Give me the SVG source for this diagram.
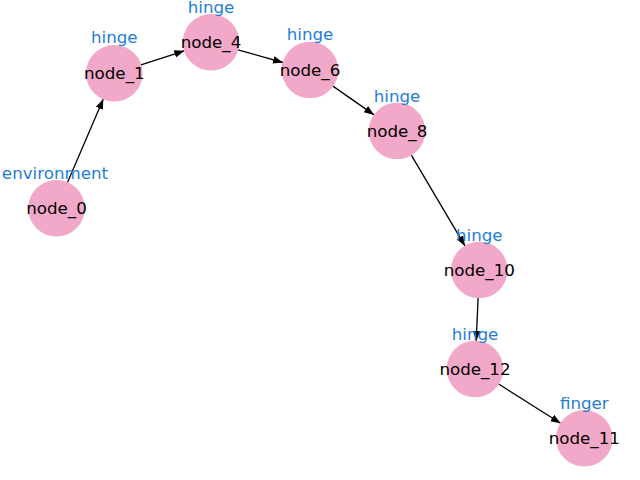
<svg xmlns="http://www.w3.org/2000/svg" width="640" height="480" viewBox="0 0 640 480">
<style>
.n{fill:#f2a8c8}
.t{font-family:"DejaVu Sans",sans-serif;font-size:16.7px;text-anchor:middle;dominant-baseline:central;fill:#000}
.l{font-family:"DejaVu Sans",sans-serif;font-size:16.7px;text-anchor:middle;dominant-baseline:central;fill:#1f7ed6}
.e{stroke:#000;stroke-width:1.3;fill:none;marker-end:url(#a)}
</style>
<defs>
<marker id="a" markerUnits="userSpaceOnUse" markerWidth="12" markerHeight="10" viewBox="0 -5 12 10" refX="10" refY="0" orient="auto">
<path d="M0,-3.8 L10,0 L0,3.8 z" fill="#000"/>
</marker>
</defs>
<rect width="640" height="480" fill="#fff"/>
<g id="edges">
<line class="e" x1="67.5" y1="182.6" x2="103.3" y2="99"/>
<line class="e" x1="141" y1="64.8" x2="184.3" y2="50.8"/>
<line class="e" x1="238" y1="49.8" x2="283" y2="62.5"/>
<line class="e" x1="332.9" y1="86.1" x2="374.1" y2="114.9"/>
<line class="e" x1="411.3" y1="155.1" x2="465" y2="245.9"/>
<line class="e" x1="478.1" y1="298" x2="476.2" y2="341"/>
<line class="e" x1="498.7" y1="384" x2="560.6" y2="423.3"/>
</g>
<g id="node_0"><circle class="n" cx="56.5" cy="208.3" r="28.3"/><text class="t" x="56.5" y="208.3">node_0</text><text class="l" x="55" y="173">environment</text></g>
<g id="node_1"><circle class="n" cx="114.3" cy="73.3" r="28.3"/><text class="t" x="114.3" y="73.3">node_1</text><text class="l" x="114.3" y="37">hinge</text></g>
<g id="node_4"><circle class="n" cx="211" cy="42.3" r="28.3"/><text class="t" x="211" y="42.3">node_4</text><text class="l" x="211" y="7">hinge</text></g>
<g id="node_6"><circle class="n" cx="310" cy="70" r="28.3"/><text class="t" x="310" y="70">node_6</text><text class="l" x="310" y="34">hinge</text></g>
<g id="node_8"><circle class="n" cx="397" cy="131" r="28.3"/><text class="t" x="397" y="131">node_8</text><text class="l" x="397" y="95.5">hinge</text></g>
<g id="node_10"><circle class="n" cx="479.3" cy="270" r="28.3"/><text class="t" x="479.3" y="270">node_10</text><text class="l" x="479.3" y="234.5">hinge</text></g>
<g id="node_12"><circle class="n" cx="475" cy="369" r="28.3"/><text class="t" x="475" y="369">node_12</text><text class="l" x="475" y="333.5">hinge</text></g>
<g id="node_11"><circle class="n" cx="584.3" cy="438.3" r="28.3"/><text class="t" x="584.3" y="438.3">node_11</text><text class="l" x="584.3" y="402.5">finger</text></g>
</svg>
